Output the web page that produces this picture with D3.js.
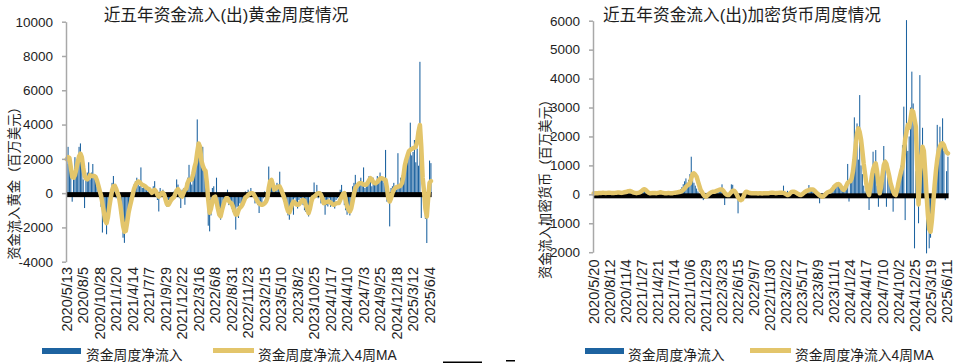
<!DOCTYPE html>
<html><head><meta charset="utf-8">
<script src="https://cdn.jsdelivr.net/npm/d3@7"></script>
<style>
body{margin:0;background:#fff}
svg{display:block}
text{font-family:"Liberation Sans","Noto Sans CJK SC",sans-serif;fill:#1e1e1e}
</style>
</head><body>
<svg id="c" width="961" height="364"></svg>
<script>
// ---------- DATA ----------
const goldStart = "2020-05-13";
const goldFlow = [
1700,2700,2000,1100,-500,900,2100,1300,1700,2700,
2900,1500,800,-870,1000,1200,1800,800,1200,1700,
900,700,400,100,-300,-800,-2300,-1500,-1400,-2400,
-1000,-300,200,600,1000,200,-300,-100,-500,-1200,
-1600,-2600,-2900,-1700,-1400,-900,-600,-200,300,500,
700,900,500,400,1500,300,500,400,200,100,
300,-200,200,400,700,100,-400,-1070,300,-200,
200,-300,-600,-800,-400,-700,-300,-200,100,200,
800,500,-300,-870,200,300,-680,600,900,1650,
700,500,1200,1700,2000,4300,2400,1900,1850,2700,
1300,900,200,-1900,-2230,-1300,300,400,-500,900,
-800,-1200,-1550,-900,-400,-300,-100,200,-700,-500,
-900,-1100,-1000,-2130,-800,-1450,-600,-900,-400,-200,
100,-300,200,-200,300,-100,-200,-600,-400,-700,
-1160,-500,-800,-300,100,-600,-300,1550,700,500,
300,100,400,600,500,1250,100,-300,-500,-700,
-900,-1300,-1550,-800,-500,-1260,-300,-600,-900,-400,
-300,-500,-700,-1000,-1100,-800,-1360,-200,-500,-100,
620,-200,480,-300,100,-600,-500,-400,-1260,-700,
-780,-300,-800,-600,-700,-900,-400,-300,-100,200,
480,-300,-700,-1000,-1260,-800,-1300,-900,400,600,
1065,300,500,700,900,500,1500,300,600,800,
1000,700,400,900,500,700,1000,800,1200,900,
900,600,2520,-500,-400,-1940,300,400,600,300,
200,2330,500,900,800,1400,1800,2000,1800,2200,
4110,2200,2400,3100,1800,2600,1600,7660,-1450,500,
400,-1500,-2910,-300,1900,1750
];
const goldMA4 = [
1980,2100,2050,1500,950,900,1050,1400,1800,2150,
2300,2100,1500,1000,850,800,900,1050,1000,1000,
1000,950,750,450,150,-150,-600,-1100,-1600,-1750,
-1400,-800,-300,150,400,425,250,0,-200,-700,
-1300,-1900,-2250,-2200,-1700,-1150,-780,-450,-100,250,
450,600,680,650,560,480,450,400,330,260,
230,120,20,100,190,100,-100,-200,-100,0,
20,-100,-400,-650,-680,-550,-400,-300,-250,-50,
150,230,100,-150,-200,0,200,250,600,780,
770,800,1100,1500,1800,2400,2900,2700,1900,1600,
1400,1300,600,-400,-1150,-900,-500,-250,-200,-500,
-900,-1250,-1350,-1000,-700,-450,-300,-300,-450,-550,
-600,-800,-1050,-1250,-1250,-1000,-850,-780,-650,-450,
-250,-200,-100,-50,0,0,-50,-200,-350,-500,
-600,-650,-680,-650,-600,-500,-300,300,700,770,
500,200,250,350,384,380,200,0,-200,-450,
-800,-1050,-1130,-900,-650,-490,-550,-650,-680,-650,
-550,-450,-390,-450,-700,-950,-1164,-900,-500,-250,
-198,-150,-50,0,0,-100,-300,-582,-560,-520,
-490,-490,-550,-620,-680,-650,-600,-580,-582,-400,
-200,-50,0,-400,-780,-950,-1070,-900,-500,-50,
290,400,500,582,582,550,500,483,483,600,
750,873,800,650,582,582,650,750,850,873,
850,800,774,300,-300,-490,-300,0,192,300,
350,380,384,450,582,1000,1600,1940,2200,2450,
2520,2580,2620,2650,2710,3000,3600,3975,2700,900,
100,-900,-1360,-300,600,700
];
const goldTicks = ["2020/5/13","2020/8/5","2020/10/28","2021/1/20","2021/4/14","2021/7/7",
"2021/9/29","2021/12/22","2022/3/16","2022/6/8","2022/8/31","2022/11/23","2023/2/15",
"2023/5/10","2023/8/2","2023/10/25","2024/1/17","2024/4/10","2024/7/3","2024/9/25",
"2024/12/18","2025/3/12","2025/6/4"];
const goldYTicks = [-4000,-2000,0,2000,4000,6000,8000,10000];

const cryptoStart = "2020-05-20";
const cryptoFlow = [
20,40,30,50,40,60,50,60,40,50,
60,50,60,40,50,40,60,50,70,60,
50,40,80,70,100,90,130,120,80,60,
50,40,30,60,70,100,150,200,180,120,
60,30,40,50,60,40,50,30,60,70,
80,50,100,30,20,50,60,30,40,50,
40,70,80,90,120,180,250,350,450,550,
400,500,700,1300,500,400,300,200,100,-50,
100,-100,-200,-150,50,30,60,80,100,120,
80,60,100,150,180,200,345,100,-370,50,
-50,0,100,345,330,100,50,-100,-657,-200,
-250,-100,50,100,120,60,40,20,50,30,
40,50,30,20,50,40,30,40,50,30,
40,50,80,60,40,-20,-60,-30,50,80,
90,70,300,20,80,120,60,-50,-100,-30,
100,80,50,-20,-40,-50,20,60,100,130,
150,320,200,180,150,80,30,-30,-80,-310,
-100,-60,20,80,100,120,80,150,200,300,
320,350,400,380,300,200,150,100,200,320,
1050,-250,400,600,900,2660,1800,2450,1200,3430,
1000,700,300,100,200,150,-540,200,500,1473,
900,1530,300,-430,200,500,800,1670,1200,-430,
900,600,300,200,-600,100,50,300,500,800,
1000,1700,3030,-890,6020,1500,2000,3000,4240,3140,
-1866,800,400,-1000,4120,1500,2300,1000,500,-2040,
-500,-1866,-1500,-300,200,500,1000,2400,1500,2336,
1818,2627,1500,-200,800,1300
];
const cryptoMA4 = [
30,35,40,40,45,50,50,55,50,45,
50,55,55,50,50,45,50,55,60,60,
55,50,60,70,80,90,110,115,100,80,
60,50,40,50,60,80,120,160,175,150,
100,60,40,40,50,50,45,40,50,60,
70,60,50,40,35,40,50,40,35,40,
50,55,60,70,80,90,110,150,200,260,
300,340,380,550,700,725,680,610,450,300,
150,80,0,-60,-80,-40,0,40,70,90,
90,100,120,140,160,170,170,120,50,0,
-20,-25,20,80,120,125,80,0,-100,-170,
-200,-180,-80,30,90,80,60,45,40,35,
35,40,35,30,40,35,30,35,40,35,
35,40,50,55,55,50,40,45,50,55,
55,55,50,30,0,-25,-10,40,80,90,
90,70,40,10,-15,-25,0,40,80,110,
130,150,165,170,170,140,90,40,0,-40,
-70,-80,-60,-20,30,70,90,100,140,200,
260,310,340,356,330,260,190,150,200,300,
400,436,450,550,800,1200,1700,2100,2280,2150,
1900,1500,1050,700,350,100,-25,250,600,850,
1000,1070,800,350,35,250,650,1000,1127,1050,
850,650,400,250,100,0,-25,150,400,600,
800,950,1400,1900,2150,2400,2300,2600,2900,2850,
2600,2336,1000,-350,600,1300,1645,1500,800,0,
-700,-1200,-1292,-900,-300,300,800,1200,1500,1650,
1750,1762,1700,1550,1450,1417
];
const cryptoTicks = ["2020/5/20","2020/8/12","2020/11/4","2021/1/27","2021/4/21","2021/7/14",
"2021/10/6","2021/12/29","2022/3/23","2022/6/15","2022/9/7","2022/11/30","2023/2/22",
"2023/5/17","2023/8/9","2023/11/1","2024/1/24","2024/4/17","2024/7/10","2024/10/2",
"2024/12/25","2025/3/19","2025/6/11"];
const cryptoYTicks = [-2000,-1000,0,1000,2000,3000,4000,5000,6000];

const seriesNames = ["资金周度净流入","资金周度净流入4周MA"];

// ---------- DRAW ----------
const BLUE = "#1d63a0", GOLD = "#e3c56b", AXIS = "#a8a8a8";
const svg = d3.select("#c");
const fmt = d3.timeFormat("%Y/%-m/%-d");
const parse = d3.timeParse("%Y-%m-%d");
function weeks(start, n){ const s = parse(start); return d3.range(n).map(i => fmt(d3.timeDay.offset(s, 7*i))); }

function panel(cfg){
  const cats = weeks(cfg.start, cfg.flow.length);
  const x = d3.scaleBand().domain(cats).range([cfg.x0, cfg.x1]).padding(0);
  const y = d3.scaleLinear().domain(cfg.yDomain).range([cfg.yBottom, cfg.yTop]);
  const bw = x.bandwidth()*0.78;
  const g = svg.append("g");

  g.append("g").selectAll("rect").data(cfg.flow).join("rect")
    .attr("x",(d,i)=>x(cats[i]) + (x.bandwidth()-bw)/2)
    .attr("width", bw)
    .attr("y", d => y(Math.max(0,d)))
    .attr("height", d => Math.abs(y(d)-y(0)))
    .attr("fill", BLUE);

  g.append("rect").attr("x", cfg.x0).attr("width", cfg.x1 - cfg.x0)
    .attr("y", y(0)-1).attr("height", 5).attr("fill", "#000");

  const line = d3.line().x((d,i)=>x(cats[i]) + x.bandwidth()/2).y(d=>y(d));
  g.append("path").datum(cfg.ma).attr("d", line).attr("fill","none")
    .attr("stroke", GOLD).attr("stroke-width", 4.5)
    .attr("stroke-linejoin","round").attr("stroke-linecap","round");

  const ya = g.append("g").attr("transform",`translate(${cfg.x0},0)`)
    .call(d3.axisLeft(y).tickValues(cfg.yTicks).tickSize(4).tickSizeOuter(0).tickPadding(9).tickFormat(d=>String(d)));
  ya.select(".domain").attr("stroke", AXIS).attr("stroke-width", 1.5);
  ya.selectAll(".tick line").attr("stroke", AXIS).attr("stroke-width", 1.5);
  ya.selectAll("text").attr("font-size", 13.5).attr("fill","#1e1e1e");

  const xa = g.append("g").attr("transform",`translate(0,${cfg.labelTop})`)
    .call(d3.axisBottom(x).tickValues(cfg.ticks).tickSize(0));
  xa.select(".domain").remove();
  xa.selectAll("text").attr("transform","rotate(-90)").attr("x",0).attr("y",0)
    .attr("dy","0.35em").attr("text-anchor","end").attr("font-size",14.5).attr("fill","#1e1e1e");

  svg.append("text").attr("x", cfg.titleX).attr("y", 21).attr("text-anchor","middle")
    .attr("font-size", 16.7).text(cfg.title);
  svg.append("text").attr("transform",`translate(${cfg.yTitleX},${cfg.yTitleY}) rotate(-90)`)
    .attr("text-anchor","middle").attr("dy","0.35em").attr("font-size",13.3).text(cfg.yTitle);

  // legend
  const L = cfg.legend;
  svg.append("rect").attr("x", L[0]).attr("y", 348).attr("width", 39).attr("height", 6).attr("fill", BLUE);
  svg.append("text").attr("x", L[1]).attr("y", 355).attr("dy","0.35em").attr("font-size",13.8).text(seriesNames[0]);
  svg.append("line").attr("x1", L[2]).attr("x2", L[2]+41).attr("y1", 350.5).attr("y2", 350.5)
    .attr("stroke", GOLD).attr("stroke-width", 5);
  svg.append("text").attr("x", L[3]).attr("y", 355).attr("dy","0.35em").attr("font-size",13.8).text(seriesNames[1]);
}

panel({start: goldStart, flow: goldFlow, ma: goldMA4, ticks: goldTicks, yTicks: goldYTicks,
  x0: 66, x1: 431.6, yDomain: [-4000,10000], yTop: 21.7, yBottom: 261.7, labelTop: 267,
  title: "近五年资金流入(出)黄金周度情况", titleX: 226,
  yTitle: "资金流入黄金（百万美元）", yTitleX: 14, yTitleY: 180,
  legend: [42, 86, 213, 258]});

panel({start: cryptoStart, flow: cryptoFlow, ma: cryptoMA4, ticks: cryptoTicks, yTicks: cryptoYTicks,
  x0: 593, x1: 948.6, yDomain: [-2000,6000], yTop: 20.7, yBottom: 252.2, labelTop: 259.5,
  title: "近五年资金流入(出)加密货币周度情况", titleX: 742,
  yTitle: "资金流入加密货币（百万美元）", yTitleX: 545, yTitleY: 186,
  legend: [585, 628, 750, 795]});

svg.append("rect").attr("x",443).attr("y",361.5).attr("width",39).attr("height",1.5).attr("fill","#000");
svg.append("rect").attr("x",506).attr("y",360).attr("width",9).attr("height",1.5).attr("fill","#000");
</script>
</body></html>
